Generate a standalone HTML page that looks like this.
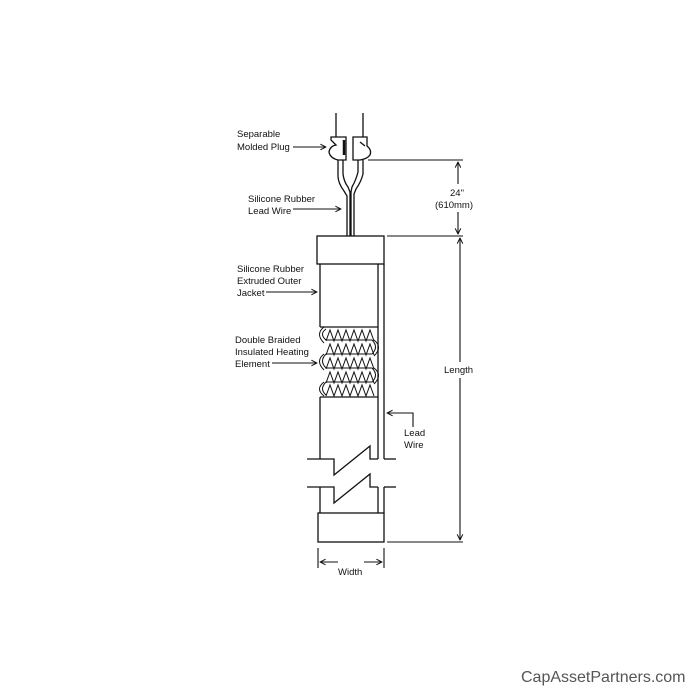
<!DOCTYPE html>
<html><head><style>
html,body{margin:0;padding:0;background:#fff;width:700px;height:700px;overflow:hidden}
svg{display:block}
text{font-family:"Liberation Sans",Arial,sans-serif;font-size:9.5px;fill:#111}
</style></head><body>
<svg width="700" height="700" viewBox="0 0 700 700" xmlns="http://www.w3.org/2000/svg">
<defs>
<marker id="a" viewBox="0 0 10 10" refX="9" refY="5" markerWidth="7" markerHeight="7" orient="auto-start-reverse" markerUnits="userSpaceOnUse">
<path d="M1,1 L9,5 L1,9" fill="none" stroke="#111" stroke-width="1.4"/>
</marker>
</defs>
<g stroke="#111" stroke-width="1.3" fill="none">
<!-- plug wires top -->
<line x1="336" y1="113" x2="336" y2="137"/>
<line x1="363" y1="113" x2="363" y2="137"/>
<!-- left plug -->
<path d="M331,137 L346,137 L346,160 L338,160 Q330,158 329,152 Q330,146 336,145 L331,140 Z"/>
<line x1="344" y1="140" x2="344" y2="155" stroke-width="2.5"/>
<!-- right plug -->
<path d="M353,137 L367,137 L367,146 Q372,150 370,155 Q367,159 360,160 L353,160 Z"/>
<line x1="360" y1="142" x2="365" y2="146"/>
<!-- lead wires -->
<path d="M338,160 L338,176 Q338,183 344,191 L347,196 L347,236"/>
<path d="M343,160 L343,174 Q344,182 348,187 L350,192 L350,236"/>
<path d="M358,160 L358,172 Q356,180 352,187 L351,192 L351,236"/>
<path d="M363,160 L363,174 Q361,182 356,189 L354,194 L354,236"/>
<!-- top cap -->
<rect x="317" y="236" width="67" height="28"/>
<!-- jacket -->
<line x1="320" y1="264" x2="320" y2="327"/>
<line x1="378" y1="264" x2="378" y2="459"/>
<line x1="384" y1="264" x2="384" y2="459"/>
<line x1="320" y1="327" x2="378" y2="327"/>
<line x1="320" y1="397" x2="378" y2="397"/>
<line x1="320" y1="397" x2="320" y2="459"/>
<!-- break -->
<path d="M307,459 L334,459 L334,475 L370,446 L370,459 L378,459"/>
<line x1="384" y1="459" x2="396" y2="459"/>
<path d="M307,487 L334,487 L334,503 L370,474 L370,487 L378,487"/>
<line x1="384" y1="487" x2="396" y2="487"/>
<line x1="320" y1="487" x2="320" y2="513"/>
<line x1="378" y1="487" x2="378" y2="513"/>
<line x1="384" y1="487" x2="384" y2="513"/>
<!-- bottom cap -->
<rect x="318" y="513" width="66" height="29"/>
</g>
<!-- braid -->
<g stroke="#111" stroke-width="1" fill="none">
<path d="M326,329 Q319,334 326,340 L372,340 Q379,347 372,354 L326,354 Q319,361 326,368 L372,368 Q379,375 372,382 L326,382 Q319,389 326,395"/>
<path d="M324,327 Q315,334 324,343 M374,340 Q383,347 374,356 M324,354 Q315,361 324,370 M374,368 Q383,375 374,384 M324,382 Q315,389 324,396"/>
<path d="M326,341 l4,-11 l4,11 l4,-11 l4,11 l4,-11 l4,11 l4,-11 l4,11 l4,-11 l4,11 l4,-11 l4,11"/>
<path d="M326,355 l4,-11 l4,11 l4,-11 l4,11 l4,-11 l4,11 l4,-11 l4,11 l4,-11 l4,11 l4,-11 l4,11"/>
<path d="M326,369 l4,-11 l4,11 l4,-11 l4,11 l4,-11 l4,11 l4,-11 l4,11 l4,-11 l4,11 l4,-11 l4,11"/>
<path d="M326,383 l4,-11 l4,11 l4,-11 l4,11 l4,-11 l4,11 l4,-11 l4,11 l4,-11 l4,11 l4,-11 l4,11"/>
<path d="M326,396 l4,-11 l4,11 l4,-11 l4,11 l4,-11 l4,11 l4,-11 l4,11 l4,-11 l4,11 l4,-11 l4,11"/>
</g>
<!-- dimensions & arrows -->
<g stroke="#111" stroke-width="1.1" fill="none">
<line x1="368" y1="160" x2="463" y2="160"/>
<line x1="387" y1="236" x2="463" y2="236"/>
<line x1="387" y1="542" x2="463" y2="542"/>
<line x1="458" y1="162" x2="458" y2="184" marker-start="url(#a)"/>
<line x1="458" y1="212" x2="458" y2="234" marker-end="url(#a)"/>
<line x1="460" y1="238" x2="460" y2="362" marker-start="url(#a)"/>
<line x1="460" y1="378" x2="460" y2="540" marker-end="url(#a)"/>
<line x1="318" y1="548" x2="318" y2="568"/>
<line x1="384" y1="548" x2="384" y2="568"/>
<line x1="320" y1="562" x2="338" y2="562" marker-start="url(#a)"/>
<line x1="364" y1="562" x2="382" y2="562" marker-end="url(#a)"/>
<line x1="293" y1="147" x2="326" y2="147" marker-end="url(#a)"/>
<line x1="293" y1="209" x2="341" y2="209" marker-end="url(#a)"/>
<line x1="266" y1="292" x2="317" y2="292" marker-end="url(#a)"/>
<line x1="272" y1="363" x2="317" y2="363" marker-end="url(#a)"/>
<path d="M413,427 L413,413 L387,413" marker-end="url(#a)"/>
</g>
<text x="237" y="137">Separable</text>
<text x="237" y="150">Molded Plug</text>
<text x="248" y="202">Silicone Rubber</text>
<text x="248" y="214">Lead Wire</text>
<text x="237" y="272">Silicone Rubber</text>
<text x="237" y="284">Extruded Outer</text>
<text x="237" y="296">Jacket</text>
<text x="235" y="343">Double Braided</text>
<text x="235" y="355">Insulated Heating</text>
<text x="235" y="367">Element</text>
<text x="404" y="436">Lead</text>
<text x="404" y="448">Wire</text>
<text x="450" y="196">24"</text>
<text x="435" y="208">(610mm)</text>
<text x="444" y="373">Length</text>
<text x="338" y="575">Width</text>
<text x="521" y="682" style="font-size:16px;fill:#555">CapAssetPartners.com</text>
</svg>
</body></html>
